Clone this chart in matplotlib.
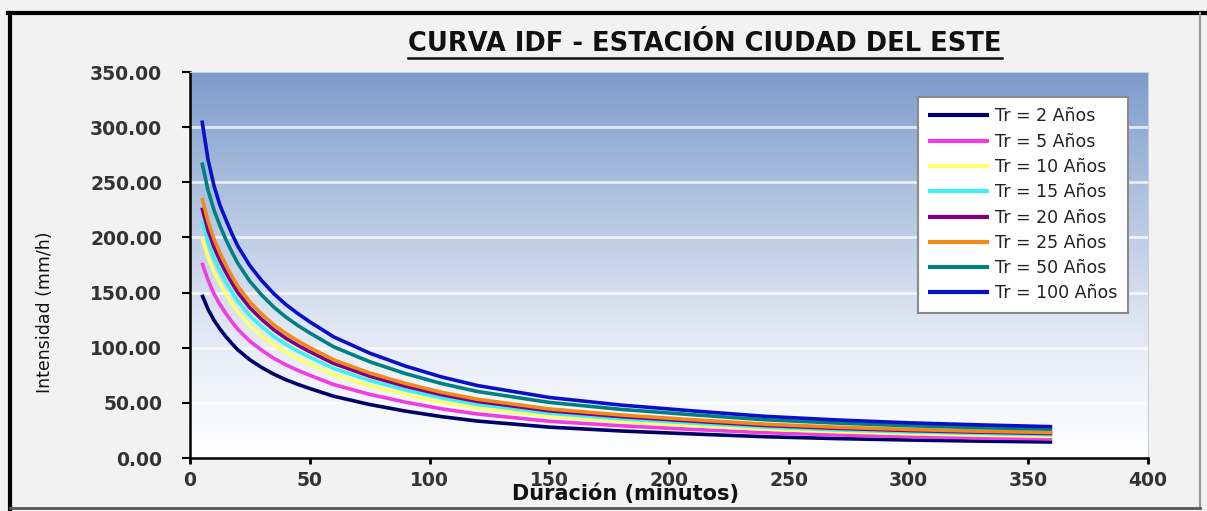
import numpy as np
import matplotlib
matplotlib.use("Agg")
import matplotlib.pyplot as plt
from matplotlib.colors import LinearSegmentedColormap
from matplotlib.lines import Line2D

# Duration (min) and rainfall intensity (mm/h) for each return period
duracion = [5, 7.5, 10, 12.5, 15, 17.5, 20, 25, 30, 35, 40, 45, 50, 60, 75,
            90, 105, 120, 150, 180, 210, 240, 270, 300, 330, 360]

tr2 = [148, 135, 125, 117, 110, 103.7, 98, 89, 82, 76, 71, 66.8, 63, 56,
       48.5, 42.5, 37.5, 33.5, 28, 24.5, 21.8, 19.3, 17.6, 16.3, 15.3, 14.5]
tr5 = [177, 161.5, 148.8, 139.2, 130.9, 123.4, 116.6, 105.9, 97.6, 90.4,
       84.5, 79.5, 75.0, 66.6, 57.7, 50.6, 44.6, 39.9, 33.3, 29.2, 25.9,
       23.0, 20.9, 19.4, 18.2, 17.3]
tr10 = [200, 182.3, 168.8, 158.0, 148.5, 140.0, 132.3, 120.2, 110.7, 102.6,
        95.9, 90.2, 85.1, 75.6, 65.5, 57.4, 50.6, 45.2, 37.8, 33.1, 29.4,
        26.1, 23.8, 22.0, 20.7, 19.6]
tr15 = [215, 195.8, 181.3, 169.7, 159.5, 150.4, 142.1, 129.1, 118.9, 110.2,
        103.0, 96.9, 91.4, 81.2, 70.3, 61.6, 54.4, 48.6, 40.6, 35.5, 31.6,
        28.0, 25.5, 23.6, 22.2, 21.0]
tr20 = [227, 206.6, 191.3, 179.0, 168.3, 158.7, 149.9, 136.2, 125.5, 116.3,
        108.6, 102.2, 96.4, 85.7, 74.2, 65.0, 57.4, 51.3, 42.8, 37.5, 33.4,
        29.5, 26.9, 24.9, 23.4, 22.2]
tr25 = [236, 214.7, 198.8, 186.0, 174.9, 164.9, 155.8, 141.5, 130.4, 120.8,
        112.9, 106.2, 100.2, 89.0, 77.1, 67.6, 59.6, 53.3, 44.5, 39.0, 34.7,
        30.7, 28.0, 25.9, 24.3, 23.1]
tr50 = [268, 243.0, 225, 210.6, 198, 186.7, 176.4, 160.2, 147.6, 136.8,
        127.8, 120.2, 113.4, 100.8, 87.3, 76.5, 67.5, 60.3, 50.4, 44.1, 39.2,
        34.7, 31.7, 29.3, 27.5, 26.1]
tr100 = [306, 271, 247, 229.3, 216, 203.3, 192, 174.4, 160.7, 149, 139.2,
         131, 123.5, 109.8, 95.1, 83.3, 73.5, 65.7, 54.9, 48.0, 42.7, 37.8,
         34.5, 31.9, 30.0, 28.4]

etiquetas = ["Tr = 2 Años", "Tr = 5 Años", "Tr = 10 Años", "Tr = 15 Años",
             "Tr = 20 Años", "Tr = 25 Años", "Tr = 50 Años", "Tr = 100 Años"]
series = [tr2, tr5, tr10, tr15, tr20, tr25, tr50, tr100]
colores = ["#000066", "#f03ce0", "#ffff70", "#40f0f0", "#800080",
           "#f08a1a", "#008080", "#0a10c8"]

yticks = [0, 50, 100, 150, 200, 250, 300, 350]
xticks = [0, 50, 100, 150, 200, 250, 300, 350, 400]

W, H = 1207, 511
fig = plt.figure(figsize=(W / 100, H / 100), dpi=100)
fig.patch.set_facecolor("#f2f2f2")

ax = fig.add_axes([190 / W, 1 - 458 / H, (1148 - 190) / W, (458 - 72) / H])

# Vertical gradient background
cmap = LinearSegmentedColormap.from_list(
    "fondo", [(0.0, "#ffffff"), (0.15, "#f4f6fb"), (0.35, "#dfe6f3"),
              (0.65, "#b3c5e1"), (1.0, "#7d9ccb")])
grad = np.linspace(0, 1, 256).reshape(-1, 1)
ax.imshow(grad, extent=[0, 400, 0, 350], aspect="auto", origin="lower",
          cmap=cmap, zorder=0, interpolation="bicubic")

for yv in yticks[1:-1]:
    ax.axhline(yv, color="white", lw=2.0, alpha=0.75, zorder=1)

for vals, col, lab in zip(series, colores, etiquetas):
    ax.plot(duracion, vals, color=col, lw=2.6, label=lab, zorder=3,
            solid_capstyle="butt", solid_joinstyle="round")

ax.set_xlim(0, 400)
ax.set_ylim(0, 350)
ax.set_xticks(xticks)
ax.set_yticks(yticks)
ax.set_xticklabels([str(v) for v in xticks])
ax.set_yticklabels([f"{v:.2f}" for v in yticks])

for s in ["top", "right"]:
    ax.spines[s].set_color("#c8cfdc")
    ax.spines[s].set_linewidth(0.8)
for s in ["left", "bottom"]:
    ax.spines[s].set_color("black")
    ax.spines[s].set_linewidth(1.8)

ax.tick_params(axis="y", direction="out", length=6, width=1.5, pad=14,
               labelsize=13.5, labelcolor="#333333")
ax.tick_params(axis="x", direction="out", length=4, width=2, pad=5,
               labelsize=13.5, labelcolor="#333333")
for t in ax.get_xticklabels() + ax.get_yticklabels():
    t.set_fontweight("bold")

leg = ax.legend(loc="upper right", bbox_to_anchor=(1128 / W, 1 - 97 / H),
                bbox_transform=fig.transFigure, borderaxespad=0,
                fontsize=12.5, frameon=True, fancybox=False,
                handlelength=3.5, handletextpad=0.35, labelspacing=0.42,
                borderpad=0.6)
leg.get_frame().set_edgecolor("#8a8a8a")
leg.get_frame().set_linewidth(1.5)
leg.get_frame().set_facecolor("white")
leg.get_frame().set_alpha(1)
for t in leg.get_texts():
    t.set_color("#222222")
for h in leg.get_lines():
    h.set_linewidth(3)

# Axis titles
fig.text(626 / W, 1 - 494 / H, "Duración (minutos)", ha="center",
         va="center", fontsize=15, fontweight="bold", color="#111111")
fig.text(45 / W, 1 - 312 / H, "Intensidad (mm/h)", ha="center",
         va="center", rotation=90, fontsize=12.5, color="#111111")

# Underlined chart title
title = fig.text(705 / W, 1 - 44 / H, "CURVA IDF - ESTACIÓN CIUDAD DEL ESTE",
                 ha="center", va="center", fontsize=18.5, fontweight="bold",
                 color="#111111")
fig.canvas.draw()
bb = title.get_window_extent(fig.canvas.get_renderer())
yu = (bb.y0 - 1) / H
fig.add_artist(Line2D([bb.x0 / W, bb.x1 / W], [yu, yu], color="#111111",
                      lw=1.8, transform=fig.transFigure))

# Outer frame
fig.add_artist(Line2D([8 / W, 1.0], [1 - 13 / H, 1 - 13 / H], color="black",
                      lw=3, transform=fig.transFigure))
fig.add_artist(Line2D([10 / W, 10 / W], [1 - 13 / H, 0], color="black",
                      lw=3, transform=fig.transFigure))
fig.add_artist(Line2D([1200 / W, 1200 / W], [1 - 13 / H, 1 - 508 / H],
                      color="#9a9a9a", lw=1.5, transform=fig.transFigure))
fig.add_artist(Line2D([10 / W, 1200 / W], [1 - 508 / H, 1 - 508 / H],
                      color="#555555", lw=2, transform=fig.transFigure))

fig.savefig("out.png", dpi=100, facecolor=fig.get_facecolor())
